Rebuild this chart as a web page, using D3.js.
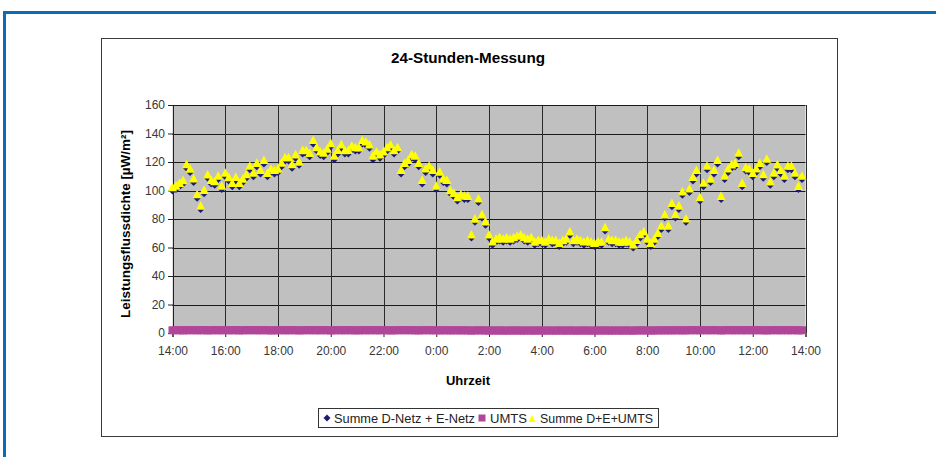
<!DOCTYPE html>
<html lang="de">
    <head>
        <meta charset="utf-8">
        <style type="text/css">
            body { margin: 0; background: #fff; }
            text { font-family: "Liberation Sans", Arial, sans-serif; }
            .tick text { font-size: 12px; fill: #383838; }
        </style>
    </head>
    <body>
        <svg width="936" height="457"></svg>

        <script src="https://d3js.org/d3.v7.min.js"></script>
        <script>
            // one reading every 8 minutes, starting 14:00 (15 readings per 2-hour row)
            var startHour = 14,
                stepMinutes = 8;

            var dNetzENetz = [
                100, 101, 103, 105, 116, 113, 106, 95, 87, 98, 109, 105, 104, 108, 101,      // 14-16
                110, 107, 103, 107, 103, 106, 109, 115, 110, 117, 112, 119, 110, 113, 112,   // 16-18
                113, 117, 121, 121, 116, 123, 118, 126, 126, 124, 133, 128, 125, 124, 127,   // 18-20
                131, 122, 126, 130, 126, 126, 129, 128, 128, 133, 132, 130, 122, 125, 123,   // 20-22
                125, 128, 130, 126, 128, 112, 117, 119, 123, 122, 117, 105, 113, 115, 112,   // 22-0
                101, 111, 106, 105, 98, 96, 93, 95, 94, 94, 67, 78, 92, 81, 76,             // 0-2
                67, 62, 64, 65, 64, 65, 64, 65, 66, 67, 65, 64, 65, 62, 63,                 // 2-4
                63, 62, 64, 63, 63, 61, 63, 64, 69, 63, 64, 63, 62, 63, 62,                 // 4-6
                61, 62, 62, 72, 64, 63, 63, 62, 62, 63, 62, 60, 63, 67, 69,                 // 6-8
                64, 61, 64, 68, 73, 81, 73, 89, 81, 87, 97, 78, 99, 107, 112,               // 8-10
                93, 103, 115, 106, 112, 119, 94, 108, 113, 116, 117, 124, 103, 114, 113,    // 10-12
                110, 113, 117, 109, 120, 104, 110, 116, 112, 108, 115, 115, 110, 101, 108   // 12-14
            ];

            var umts = [
                1.9, 2.0, 1.9, 1.8, 2.0, 1.9, 2.0, 1.9, 1.9, 2.0, 1.8, 1.9, 2.0, 1.9, 1.9,
                2.0, 1.9, 1.9, 2.0, 1.8, 1.9, 2.0, 1.9, 2.0, 1.9, 1.9, 2.0, 1.9, 1.8, 1.9,
                1.9, 2.0, 1.9, 1.9, 2.0, 1.9, 1.8, 1.9, 2.0, 1.9, 2.0, 1.9, 1.9, 2.0, 1.9,
                1.8, 1.9, 2.0, 1.9, 1.9, 2.0, 1.9, 1.9, 1.8, 2.0, 1.9, 1.9, 2.0, 1.9, 1.9,
                2.0, 1.9, 1.8, 1.9, 1.9, 2.0, 1.9, 2.0, 1.9, 1.9, 1.8, 1.9, 2.0, 1.9, 1.9,
                1.9, 1.8, 1.9, 1.9, 1.8, 1.9, 1.9, 1.8, 1.9, 1.8, 1.7, 1.8, 1.9, 1.8, 1.8,
                1.7, 1.8, 1.7, 1.8, 1.7, 1.7, 1.8, 1.7, 1.8, 1.7, 1.7, 1.8, 1.7, 1.7, 1.8,
                1.7, 1.7, 1.8, 1.7, 1.7, 1.8, 1.7, 1.7, 1.8, 1.7, 1.7, 1.7, 1.8, 1.7, 1.7,
                1.7, 1.8, 1.7, 1.8, 1.7, 1.7, 1.8, 1.7, 1.7, 1.8, 1.7, 1.7, 1.8, 1.8, 1.8,
                1.8, 1.7, 1.8, 1.8, 1.9, 1.8, 1.9, 1.8, 1.9, 1.9, 1.8, 1.9, 1.9, 2.0, 1.9,
                1.9, 2.0, 1.9, 1.9, 2.0, 1.9, 1.8, 1.9, 2.0, 1.9, 1.9, 2.0, 1.9, 1.9, 2.0,
                1.9, 2.0, 1.9, 1.9, 1.8, 1.9, 2.0, 1.9, 1.9, 2.0, 1.9, 1.9, 2.0, 1.8, 1.9
            ];

            var yTicks = [0, 20, 40, 60, 80, 100, 120, 140, 160];

            var seriesNames = ["Summe D-Netz + E-Netz", "UMTS", "Summe D+E+UMTS"];
            var seriesColors = ["#1c1c74", "#b0469a", "#ffff00"];

            var svg = d3.select("svg");

            var t0 = new Date(2000, 0, 1, startHour, 0);
            var rows = dNetzENetz.map(function (v, i) {
                return {
                    time: new Date(t0.getTime() + i * stepMinutes * 60000),
                    de: v,
                    umts: umts[i],
                    sum: v + umts[i]
                };
            });

            var x = d3.scaleTime()
                .domain([t0, d3.timeHour.offset(t0, 24)])
                .range([172.5, 805.5]);
            var y = d3.scaleLinear().domain([0, 160]).range([333, 105]);

            // outer blue frame and chart box
            svg.append("rect")
                .attr("x", 4.5).attr("y", 12.5).attr("width", 1000).attr("height", 1000)
                .attr("fill", "none").attr("stroke", "#0a6db6").attr("stroke-width", 3);
            svg.append("rect")
                .attr("x", 101.5).attr("y", 38.5).attr("width", 736).attr("height", 398)
                .attr("fill", "#fff").attr("stroke", "#3a3a3a");

            svg.append("rect")
                .attr("x", x.range()[0]).attr("y", y(160))
                .attr("width", x.range()[1] - x.range()[0]).attr("height", y(0) - y(160))
                .attr("fill", "#c0c0c0");

            // grid
            var xTicks = x.ticks(d3.timeHour.every(2));
            svg.append("g").selectAll("line")
                .data(yTicks.slice(1))
                .enter().append("line")
                .attr("x1", x.range()[0]).attr("x2", x.range()[1])
                .attr("y1", function (d) { return Math.round(y(d)) + 0.5; })
                .attr("y2", function (d) { return Math.round(y(d)) + 0.5; })
                .attr("stroke", "#1a1a1a");
            svg.append("g").selectAll("line")
                .data(xTicks.slice(1))
                .enter().append("line")
                .attr("x1", function (d) { return Math.round(x(d)) + 0.5; })
                .attr("x2", function (d) { return Math.round(x(d)) + 0.5; })
                .attr("y1", y(160)).attr("y2", y(0))
                .attr("stroke", "#2a2a2a");

            // axes
            svg.append("g")
                .attr("class", "axis")
                .attr("transform", "translate(" + Math.round(x.range()[0]) + ",0)")
                .call(d3.axisLeft(y).tickValues(yTicks).tickSize(5).tickPadding(3));
            svg.append("g")
                .attr("class", "axis")
                .attr("transform", "translate(0," + y(0) + ")")
                .call(d3.axisBottom(x).tickValues(xTicks).tickFormat(d3.timeFormat("%-H:%M"))
                    .tickSize(4).tickPadding(9));
            svg.selectAll(".axis path, .axis line").attr("stroke", "#222");
            svg.selectAll(".axis text").attr("font-family", "Liberation Sans, Arial, sans-serif");

            // markers
            var diamond = "M0,-4L4,0L0,4L-4,0Z",
                triangle = "M0,-5.2L4.6,3.4L-4.6,3.4Z";

            svg.append("g").selectAll("path")
                .data(rows)
                .enter().append("path")
                .attr("d", diamond)
                .attr("transform", function (d) { return "translate(" + x(d.time) + "," + y(d.de) + ")"; })
                .attr("fill", seriesColors[0]);

            svg.append("g").selectAll("rect")
                .data(rows)
                .enter().append("rect")
                .attr("x", function (d) { return x(d.time) - 4; })
                .attr("y", function (d) { return y(d.umts) - 4; })
                .attr("width", 8).attr("height", 8)
                .attr("fill", seriesColors[1]);

            svg.append("g").selectAll("path")
                .data(rows)
                .enter().append("path")
                .attr("d", triangle)
                .attr("transform", function (d) { return "translate(" + x(d.time) + "," + y(d.sum) + ")"; })
                .attr("fill", seriesColors[2]);

            // titles
            svg.append("text")
                .attr("x", 468).attr("y", 63)
                .attr("text-anchor", "middle")
                .attr("font-size", 14).attr("font-weight", "bold")
                .attr("textLength", 154).attr("lengthAdjust", "spacingAndGlyphs")
                .text("24-Stunden-Messung");
            svg.append("text")
                .attr("transform", "translate(130,224) rotate(-90)")
                .attr("text-anchor", "middle")
                .attr("font-size", 13).attr("font-weight", "bold")
                .attr("textLength", 188).attr("lengthAdjust", "spacingAndGlyphs")
                .text("Leistungsflussdichte [µW/m²]");
            svg.append("text")
                .attr("x", 468).attr("y", 385)
                .attr("text-anchor", "middle")
                .attr("font-size", 13).attr("font-weight", "bold")
                .text("Uhrzeit");

            // legend
            var legend = svg.append("g");
            legend.append("rect")
                .attr("x", 318.5).attr("y", 408.5).attr("width", 340).attr("height", 19)
                .attr("fill", "#fff").attr("stroke", "#333");
            var legendItems = [
                {mx: 327, tx: 334, w: 141},
                {mx: 482, tx: 490, w: 37},
                {mx: 532, tx: 540, w: 113}
            ];
            legend.append("path").attr("d", "M0,-3.5L3.5,0L0,3.5L-3.5,0Z")
                .attr("transform", "translate(" + legendItems[0].mx + ",418)")
                .attr("fill", seriesColors[0]);
            legend.append("rect")
                .attr("x", legendItems[1].mx - 3.5).attr("y", 414.5).attr("width", 7).attr("height", 7)
                .attr("fill", seriesColors[1]);
            legend.append("path").attr("d", "M0,-4L3.5,3L-3.5,3Z")
                .attr("transform", "translate(" + legendItems[2].mx + ",419)")
                .attr("fill", seriesColors[2]);
            legend.selectAll("text.lbl")
                .data(seriesNames)
                .enter().append("text")
                .attr("class", "lbl")
                .attr("x", function (d, i) { return legendItems[i].tx; })
                .attr("y", 422.5)
                .attr("font-size", 12)
                .attr("fill", "#222")
                .attr("textLength", function (d, i) { return legendItems[i].w; })
                .attr("lengthAdjust", "spacingAndGlyphs")
                .text(function (d) { return d; });
        </script>
    </body>
</html>
